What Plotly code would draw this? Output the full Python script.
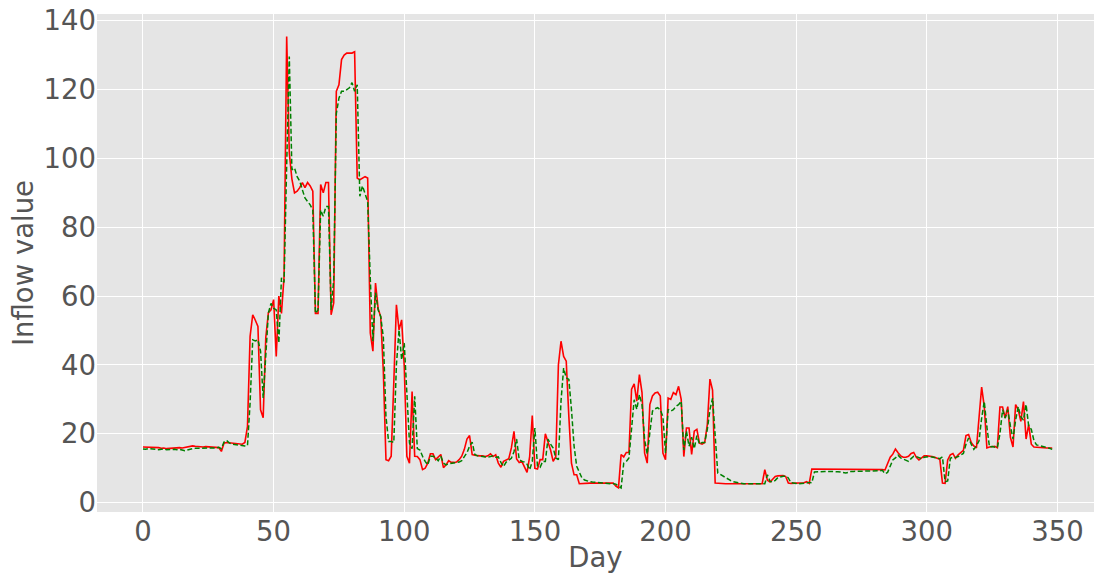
import plotly.graph_objects as go

# ---- data ----
actual = (
    [16.2, 16.2, 16.0, 16.1, 16.0, 16.2, 16.0, 15.8, 15.9, 15.7] +
    [15.8, 15.9, 15.8, 15.9, 16.0, 15.9, 16.1, 16.2, 16.3, 16.5] +
    [16.4, 16.3, 16.3, 16.2, 16.3, 16.2, 16.2, 16.1, 16.0, 16.0] +
    [14.9, 17.3, 17.5, 17.4, 17.2, 17.2, 17.1, 17.1, 17.0, 17.5] +
    [22.2, 48.3, 54.6, 53.0, 51.2, 27.0, 24.7, 48.0, 55.2, 56.0] +
    [59.0, 42.5, 60.0, 55.0, 65.7, 135.4, 101.6, 94.0, 90.0, 90.5] +
    [91.5, 93.0, 91.5, 93.0, 92.0, 90.5, 55.0, 55.0, 92.4, 90.0] +
    [93.0, 93.0, 54.6, 58.0, 119.5, 121.4, 128.7, 130.0, 130.6, 130.6] +
    [130.6, 131.0, 94.3, 93.8, 94.3, 94.7, 94.3, 49.3, 44.0, 63.8] +
    [56.4, 54.0, 38.0, 12.5, 12.2, 13.5, 35.0, 57.5, 50.2, 53.1] +
    [39.6, 13.5, 11.5, 32.3, 13.5, 13.4, 12.5, 9.6, 10.0, 11.5] +
    [14.2, 14.2, 12.5, 13.2, 14.0, 10.2, 11.0, 12.2, 11.7, 11.7] +
    [11.8, 12.5, 13.5, 15.5, 18.5, 19.5, 14.0, 13.8, 13.6, 13.6] +
    [13.6, 13.4, 13.6, 14.2, 13.4, 13.9, 11.5, 10.3, 12.0, 12.4] +
    [12.8, 15.9, 20.7, 12.7, 11.7, 12.0, 10.5, 8.8, 13.4, 25.3] +
    [10.0, 9.8, 12.5, 12.5, 20.0, 17.8, 15.3, 12.0, 13.4, 40.0] +
    [46.9, 42.5, 41.1, 25.0, 11.5, 8.1, 8.1, 5.5, 5.6, 5.7] +
    [5.7, 5.7, 5.7, 5.7, 5.7, 5.7, 5.7, 5.7, 5.7, 5.7] +
    [5.7, 4.8, 4.3, 14.0, 13.3, 14.6, 14.6, 33.0, 34.5, 29.5] +
    [37.2, 32.0, 14.4, 11.5, 28.5, 31.0, 31.9, 32.1, 31.0, 14.4] +
    [12.5, 30.4, 30.0, 32.0, 31.4, 33.8, 30.0, 13.4, 21.7, 21.7] +
    [14.0, 20.8, 21.3, 17.3, 17.0, 17.5, 22.7, 35.9, 32.7, 5.7] +
    [5.6, 5.5, 5.5, 5.5, 5.5, 5.5, 5.4, 5.4, 5.4, 5.4] +
    [5.4, 5.4, 5.4, 5.4, 5.5, 5.5, 5.5, 5.5, 9.6, 6.5] +
    [6.0, 6.7, 7.6, 7.8, 7.9, 7.9, 7.6, 5.7, 5.6, 5.6] +
    [5.6, 5.6, 5.7, 5.8, 6.1, 5.6, 9.8, 9.8, 9.7, 9.7] +
    [9.7, 9.7, 9.7, 9.7, 9.7, 9.7, 9.7, 9.7, 9.7, 9.7] +
    [9.7, 9.7, 9.7, 9.7, 9.7, 9.7, 9.7, 9.7, 9.7, 9.7] +
    [9.7, 9.6, 9.6, 9.6, 9.5, 11.5, 13.2, 14.1, 15.6, 14.5] +
    [13.6, 13.2, 13.2, 13.5, 14.3, 14.6, 13.2, 12.4, 12.9, 13.6] +
    [13.6, 13.6, 13.4, 13.2, 12.8, 12.6, 5.7, 5.6, 12.4, 13.9] +
    [14.3, 12.9, 13.9, 14.6, 15.2, 19.5, 19.8, 17.5, 16.5, 15.9] +
    [26.0, 33.6, 27.9, 15.9, 16.2, 16.3, 16.4, 16.0, 27.8, 27.8] +
    [24.6, 27.9, 19.0, 16.2, 28.5, 27.0, 23.6, 29.4, 18.5, 22.7] +
    [17.0, 16.2, 16.1, 16.0, 16.0, 15.9, 15.9, 15.9, 15.9]
)

predicted = (
    [15.6, 15.5, 15.7, 15.6, 15.5, 15.5, 15.4, 15.5, 15.6, 15.4] +
    [15.5, 15.6, 15.5, 15.4, 15.5, 15.3, 15.1, 15.3, 15.6, 15.7] +
    [15.8, 15.8, 15.7, 15.8, 15.7, 15.8, 15.7, 15.8, 15.9, 16.1] +
    [15.7, 17.6, 18.1, 17.4, 17.0, 16.9, 16.8, 16.7, 16.5, 16.5] +
    [16.6, 29.0, 47.3, 47.0, 47.3, 44.0, 30.4, 43.5, 55.1, 57.9] +
    [56.5, 56.0, 46.4, 65.3, 64.0, 98.0, 129.6, 96.7, 97.2, 94.7] +
    [93.4, 90.9, 88.5, 87.5, 86.5, 85.0, 55.0, 56.0, 85.0, 83.2] +
    [86.0, 86.0, 56.0, 64.8, 113.0, 117.5, 119.5, 119.5, 120.0, 120.5] +
    [122.0, 119.5, 121.4, 89.0, 92.0, 90.0, 87.5, 65.0, 46.9, 61.0] +
    [56.0, 54.0, 48.0, 25.0, 17.8, 17.8, 17.5, 40.0, 50.2, 41.5] +
    [46.4, 31.9, 17.3, 15.7, 30.9, 15.7, 15.3, 13.5, 12.0, 11.0] +
    [13.5, 13.5, 13.0, 12.2, 13.5, 11.5, 11.0, 11.3, 11.5, 11.6] +
    [11.7, 11.8, 12.2, 13.4, 14.5, 16.4, 17.6, 14.0, 13.6, 13.5] +
    [13.4, 13.3, 13.2, 13.4, 13.6, 13.2, 13.3, 11.7, 10.5, 11.8] +
    [12.3, 12.9, 14.8, 18.5, 12.5, 12.0, 11.8, 11.2, 9.6, 12.0] +
    [21.7, 10.5, 10.3, 12.0, 12.0, 18.5, 17.0, 15.9, 13.0, 12.5] +
    [29.5, 39.1, 36.3, 35.8, 27.1, 16.4, 10.6, 8.6, 7.2, 6.6] +
    [6.3, 6.1, 6.0, 5.9, 5.8, 5.7, 5.6, 5.6, 5.5, 5.5] +
    [5.5, 5.4, 4.8, 4.3, 11.5, 12.0, 13.0, 22.2, 29.9, 27.1] +
    [31.4, 28.5, 18.3, 14.1, 21.0, 26.6, 27.3, 27.6, 27.0, 25.0] +
    [14.4, 27.1, 26.6, 27.0, 28.0, 28.5, 29.5, 15.3, 20.8, 16.4] +
    [19.0, 15.7, 19.5, 17.0, 17.5, 17.5, 21.3, 27.0, 30.4, 20.3] +
    [8.6, 8.2, 7.7, 7.2, 6.8, 6.4, 6.1, 5.9, 5.7, 5.6] +
    [5.5, 5.5, 5.5, 5.5, 5.5, 5.5, 5.5, 5.5, 5.5, 8.1] +
    [6.2, 6.0, 6.5, 7.3, 7.6, 7.7, 7.7, 7.2, 5.8, 5.6] +
    [5.6, 5.5, 5.5, 5.6, 5.7, 5.9, 5.8, 8.9, 9.0, 9.1] +
    [9.1, 9.1, 9.1, 9.1, 9.2, 9.1, 9.0, 8.9, 8.7, 8.6] +
    [8.8, 9.1, 9.1, 9.1, 9.2, 9.1, 9.1, 9.1, 9.1, 9.1] +
    [9.2, 9.2, 9.3, 9.4, 8.4, 8.8, 10.8, 12.4, 13.0, 13.8] +
    [13.0, 12.6, 12.3, 12.0, 12.8, 13.5, 13.4, 13.0, 12.8, 13.2] +
    [13.4, 13.4, 13.3, 13.2, 13.0, 12.8, 13.3, 6.1, 6.3, 12.9] +
    [13.2, 13.1, 13.4, 13.8, 14.3, 17.0, 18.8, 17.0, 15.5, 16.5] +
    [18.0, 24.6, 29.4, 22.0, 16.2, 16.3, 16.2, 16.0, 20.0, 27.0] +
    [24.6, 27.0, 22.3, 18.5, 24.0, 27.9, 25.0, 24.0, 28.5, 22.3] +
    [21.3, 18.1, 16.8, 16.6, 16.5, 16.4, 16.0, 15.8, 15.5]
)

days = list(range(len(actual)))
x_ticks = [0, 50, 100, 150, 200, 250, 300, 350]
y_ticks = [0, 20, 40, 60, 80, 100, 120, 140]

TXT = "#555555"
FONT = "DejaVu Sans"

fig = go.Figure()
fig.add_trace(go.Scatter(x=days, y=actual, mode="lines", name="Actual",
                         line=dict(color="red", width=1.6)))
fig.add_trace(go.Scatter(x=list(range(len(predicted))), y=predicted, mode="lines",
                         name="Predicted",
                         line=dict(color="green", width=1.5, dash="5px,2.5px")))

fig.update_layout(
    width=1094, height=577,
    margin=dict(l=97, r=0, t=14, b=65),
    paper_bgcolor="white",
    plot_bgcolor="#E5E5E5",
    showlegend=False,
    font=dict(family=FONT, size=27.5, color=TXT),
)
fig.update_xaxes(
    range=[-17.6, 364.0], tickvals=x_ticks, ticktext=[str(v) for v in x_ticks],
    showgrid=True, gridcolor="white", gridwidth=1.3, zeroline=False,
    showline=False, ticks="", tickfont=dict(size=27.5, color=TXT),
    automargin=False,
    title=dict(text="Day", font=dict(size=27.5, color=TXT), standoff=2),
)
fig.update_yaxes(
    range=[-2.7, 141.95], tickvals=y_ticks, ticktext=[str(v) for v in y_ticks],
    showgrid=True, gridcolor="white", gridwidth=1.3, zeroline=False,
    showline=False, ticks="", tickfont=dict(size=27.5, color=TXT),
    automargin=False,
    title=dict(text="Inflow value", font=dict(size=27.5, color=TXT), standoff=1),
)

fig.write_html(
    "out.html",
    config={"displayModeBar": False},
    post_script="document.body.style.margin='0';document.body.style.overflow='hidden';",
)
